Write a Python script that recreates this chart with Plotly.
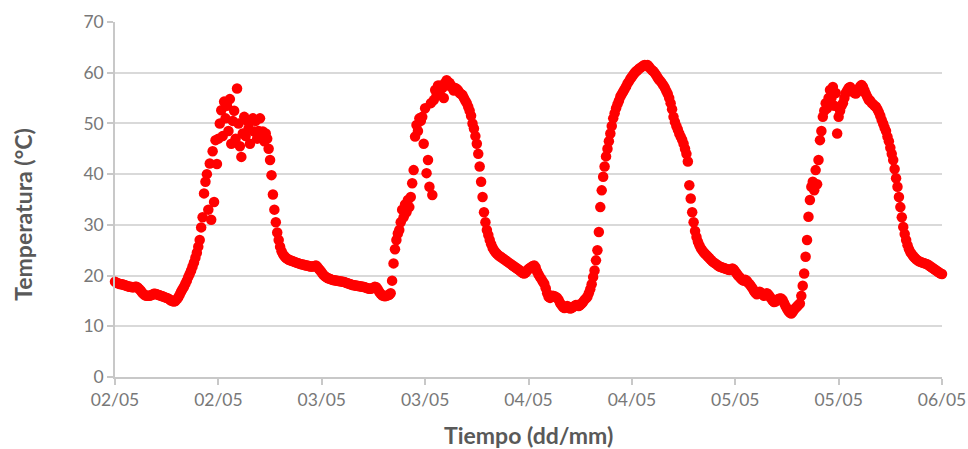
import pandas as pd
import plotly.graph_objects as go

# ---- data: temperature logger readings every 10 minutes (°C) ----
start_time = "2017-05-02 00:00"
interval_minutes = 10

temp_0205 = [
    18.8, 18.6, 18.5, 18.4, 18.3, 18.3,
    18.2, 18.1, 18.0, 17.9, 17.8, 17.8,
    17.7, 17.7, 17.8, 17.8, 17.6, 17.3,
    17.0, 16.6, 16.3, 16.1, 16.0, 16.0,
    16.0, 16.1, 16.2, 16.4, 16.4, 16.3,
    16.2, 16.1, 16.0, 15.9, 15.8, 15.7,
    15.6, 15.5, 15.3, 15.1, 15.0, 14.9,
    15.0, 15.3, 15.7, 16.2, 16.8, 17.3,
    17.8, 18.4, 19.0, 19.7, 20.3, 21.0,
    21.8, 22.6, 23.5, 24.5, 25.7, 27.0,
    29.5, 31.5, 36.2, 38.5, 40.0, 33.0,
    42.1, 31.0, 44.5, 34.5, 46.7, 42.0,
    47.0, 50.0, 52.6, 47.5, 54.3, 51.0,
    53.5, 48.5, 54.8, 46.0, 50.5, 52.5,
    47.0, 56.9, 50.0, 45.5, 43.4, 48.0,
    51.3, 47.5, 50.5, 49.0, 46.0, 50.5,
    51.0, 48.4, 50.5, 47.0, 48.5, 51.0,
    48.0, 48.4, 46.5, 48.0, 47.0, 45.0,
    42.8, 39.8, 36.0, 33.0, 30.5, 28.5,
    27.0, 25.7, 24.8, 24.2, 23.8, 23.5,
    23.3, 23.1, 23.0, 22.9, 22.8, 22.7,
    22.6, 22.5, 22.4, 22.3, 22.2, 22.2,
    22.1, 22.0, 22.0, 21.9, 21.8, 21.8,
    21.8, 21.9, 22.0, 21.7, 21.3, 21.0,
]

temp_0305 = [
    20.6, 20.2, 19.9, 19.7, 19.5, 19.4,
    19.3, 19.2, 19.1, 19.1, 19.0, 19.0,
    18.9, 18.9, 18.8, 18.8, 18.7, 18.6,
    18.5, 18.4, 18.3, 18.2, 18.1, 18.1,
    18.0, 18.0, 17.9, 17.9, 17.8, 17.8,
    17.7, 17.6, 17.5, 17.4, 17.4, 17.5,
    17.6, 17.8, 17.7, 17.3, 16.8, 16.4,
    16.1, 16.0, 15.9, 16.0, 16.1, 16.2,
    16.5, 19.0, 22.4, 25.2, 27.0, 28.3,
    29.0, 30.5, 33.0, 31.5, 34.0, 32.5,
    34.9, 33.5, 35.5, 38.2, 40.8, 47.4,
    49.7, 48.5, 51.0, 50.5, 51.3, 46.0,
    53.0, 40.2, 42.8, 37.5, 54.0, 35.9,
    54.6, 56.6, 55.5, 57.5, 56.5, 57.5,
    57.0, 55.0, 58.0, 58.5, 57.5, 58.0,
    57.5, 57.0, 56.5, 57.0, 56.8, 56.5,
    56.0, 55.8, 55.6, 55.0, 54.5, 54.0,
    53.3, 52.5, 51.5, 50.0, 49.0, 47.5,
    46.0, 44.0, 41.5, 38.5, 35.5, 32.5,
    30.5, 29.0, 28.0, 27.0, 26.2, 25.5,
    25.0, 24.6, 24.3, 24.0, 23.8, 23.6,
    23.4, 23.2, 23.0, 22.8, 22.6, 22.4,
    22.2, 22.0, 21.8, 21.6, 21.4, 21.2,
    21.0, 20.7, 20.5, 20.4, 20.6, 21.0,
]

temp_0405 = [
    21.3, 21.5, 21.7, 21.9, 22.0, 21.6,
    20.8, 20.2, 19.7, 19.3, 18.8, 18.4,
    17.5, 16.5, 15.8, 15.6, 15.8, 16.0,
    15.9, 15.8, 15.6, 15.2, 14.6, 14.2,
    13.8, 13.6, 13.8, 14.0, 13.7, 13.5,
    13.6, 13.8, 14.0, 14.2, 14.2, 14.0,
    14.2, 14.5, 14.8, 15.2, 15.5, 15.8,
    16.5, 17.3, 18.3, 19.7, 21.0, 23.0,
    25.0, 28.6, 33.5, 36.8, 39.5, 41.5,
    43.5, 45.0, 46.5, 48.0, 49.5, 51.0,
    52.0, 53.0, 53.8, 54.5, 55.3, 55.8,
    56.3, 56.8, 57.3, 57.9, 58.3, 58.8,
    59.2, 59.6, 60.0, 60.3, 60.5, 60.8,
    61.0, 61.2, 61.4, 61.5, 61.3, 61.5,
    61.2, 60.8, 60.5, 60.3, 59.9, 59.5,
    59.0, 58.6, 58.3, 57.9, 57.5, 57.0,
    56.4, 55.8, 55.0, 54.0, 52.8, 51.3,
    50.3, 49.5, 48.8, 48.0, 47.4, 46.8,
    46.0, 45.0, 44.0, 42.5, 37.8, 35.2,
    32.5, 30.5, 28.8, 27.6, 26.7, 26.0,
    25.4, 25.0, 24.6, 24.3, 24.0, 23.7,
    23.4, 23.1, 22.8, 22.6, 22.4, 22.2,
    22.0, 21.8, 21.7, 21.6, 21.5, 21.4,
    21.3, 21.2, 21.1, 21.2, 21.4, 21.2,
]

temp_0505 = [
    20.8, 20.4, 20.0, 19.7, 19.4, 19.1,
    19.0, 19.2, 19.0, 18.6, 18.3, 17.9,
    17.5, 17.0, 16.6, 16.3, 16.5, 16.8,
    16.6, 16.3, 16.0, 16.2, 16.5, 16.3,
    15.9, 15.5, 15.1, 14.8, 14.9, 15.2,
    15.4, 15.5, 15.5, 15.2, 14.6, 14.0,
    13.5, 13.0, 12.7, 12.5, 12.8, 13.3,
    13.6, 13.9, 14.2, 14.5, 16.0, 18.0,
    20.4, 23.7, 27.0, 31.6, 34.9, 37.5,
    38.5, 36.8, 40.8, 38.0, 42.8, 46.7,
    48.5, 51.3, 52.5, 54.0, 53.0, 55.0,
    56.6, 55.0, 57.2, 53.5, 56.0, 48.0,
    51.3, 52.5, 53.5, 54.0, 55.0, 56.0,
    56.5, 57.0, 57.2, 56.8, 56.3, 56.0,
    55.9, 56.3, 56.8, 57.3, 57.6, 57.2,
    56.5, 55.8, 55.2, 54.6, 54.5, 54.0,
    53.8, 53.5, 53.3, 52.8, 52.2, 51.5,
    50.7, 50.0, 49.2, 48.5, 47.4, 46.5,
    45.2, 44.0, 42.8, 41.0, 39.2, 37.5,
    35.5, 33.5, 31.5, 29.6, 28.2, 27.0,
    26.0, 25.2, 24.6, 24.2, 23.8, 23.5,
    23.2, 23.0, 22.8, 22.7, 22.6, 22.5,
    22.4, 22.3, 22.2, 22.0, 21.8, 21.6,
    21.4, 21.2, 21.0, 20.8, 20.6, 20.4,
]

temp_0605 = [20.3]

x_tick_labels = ["02/05", "02/05", "03/05", "03/05", "04/05",
                 "04/05", "05/05", "05/05", "06/05"]
y_ticks = [0, 10, 20, 30, 40, 50, 60, 70]

x_title = "Tiempo (dd/mm)"
y_title = "Temperatura (°C)"

# ---- build ----
temps = temp_0205 + temp_0305 + temp_0405 + temp_0505 + temp_0605
times = pd.date_range(start=start_time, periods=len(temps),
                      freq=f"{interval_minutes}min")
tick_vals = pd.date_range(start=start_time, periods=len(x_tick_labels), freq="12h")

fig = go.Figure()
fig.add_trace(go.Scatter(
    x=times, y=temps, mode="markers",
    marker=dict(color="#ff0000", size=10.5, line=dict(width=0)),
    cliponaxis=False, showlegend=False,
))

font_family = "Lato, 'Open Sans', sans-serif"
tick_color = "#787878"
title_color = "#595959"
fig.update_layout(
    width=968, height=449,
    margin=dict(l=115, r=26, t=22, b=72),
    paper_bgcolor="white", plot_bgcolor="white",
    font=dict(family=font_family, color=tick_color, size=17.5),
    annotations=[
        dict(text=f"<b>{x_title}</b>", xref="paper", yref="paper",
             x=0.5, y=-0.162, xanchor="center", yanchor="middle",
             showarrow=False, font=dict(size=23, color=title_color)),
        dict(text=f"<b>{y_title}</b>", xref="paper", yref="paper",
             x=-0.1105, y=0.456, xanchor="center", yanchor="middle",
             textangle=-90, showarrow=False,
             font=dict(size=23, color=title_color)),
    ],
)
fig.update_xaxes(
    range=[tick_vals[0], tick_vals[-1]],
    tickvals=tick_vals, ticktext=x_tick_labels,
    showgrid=False, zeroline=False, automargin=False,
    ticklabeloverflow="allow",
    showline=True, linecolor="#c8c8c8", linewidth=1.5,
    ticks="outside", ticklen=6, tickcolor="#c8c8c8", tickwidth=1.5,
    tickfont=dict(size=17.5, color=tick_color),
)
fig.update_yaxes(
    range=[0, 70], tickvals=y_ticks,
    showgrid=True, gridcolor="#d9d9d9", gridwidth=1.5,
    zeroline=False, automargin=False,
    ticklabeloverflow="allow",
    showline=True, linecolor="#c8c8c8", linewidth=1.5,
    ticks="outside", ticklen=6, tickcolor="#c8c8c8", tickwidth=1.5,
    tickfont=dict(size=17.5, color=tick_color),
)

fig.write_html(
    "out.html",
    config={"displayModeBar": False},
    post_script="document.body.style.margin='0';document.body.style.overflow='hidden';",
)
